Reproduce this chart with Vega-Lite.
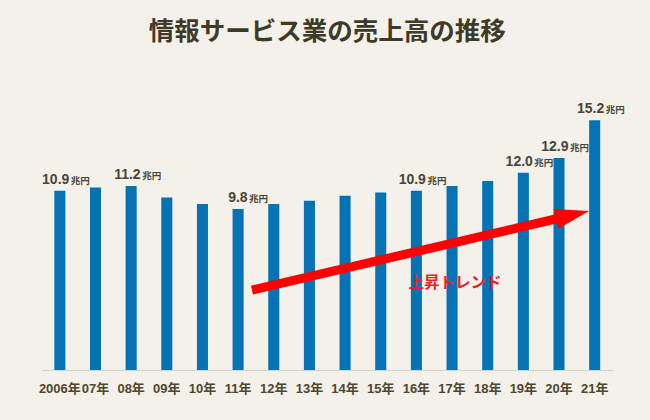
{
  "$schema": "https://vega.github.io/schema/vega-lite/v6.json",
  "width": 570.5,
  "height": 263,
  "autosize": {"type": "none"},
  "padding": {"left": 42, "top": 107, "right": 37.5, "bottom": 50},
  "background": "#f4f1ea",
  "config": {"view": {"stroke": null}},
  "title": {
    "text": "情報サービス業の売上高の推移",
    "font": "Noto Sans CJK JP",
    "fontSize": 25.5,
    "fontWeight": "bold",
    "color": "#3e3a28",
    "anchor": "middle",
    "offset": 57
  },
  "datasets": {
    "sales": [
      {"year": "2006年", "value": 10.9, "lab": "10.9"},
      {"year": "07年", "value": 11.1, "lab": ""},
      {"year": "08年", "value": 11.2, "lab": "11.2"},
      {"year": "09年", "value": 10.5, "lab": ""},
      {"year": "10年", "value": 10.1, "lab": ""},
      {"year": "11年", "value": 9.8, "lab": "9.8"},
      {"year": "12年", "value": 10.1, "lab": ""},
      {"year": "13年", "value": 10.3, "lab": ""},
      {"year": "14年", "value": 10.6, "lab": ""},
      {"year": "15年", "value": 10.8, "lab": ""},
      {"year": "16年", "value": 10.9, "lab": "10.9"},
      {"year": "17年", "value": 11.2, "lab": ""},
      {"year": "18年", "value": 11.5, "lab": ""},
      {"year": "19年", "value": 12.0, "lab": "12.0"},
      {"year": "20年", "value": 12.9, "lab": "12.9"},
      {"year": "21年", "value": 15.2, "lab": "15.2"}
    ],
    "trend": [
      {"x_start": 2011.39, "y_start": 4.86, "x_end": 2020.38, "y_end": 9.43, "text": "上昇トレンド", "text_x": 2017.08, "text_y": 5.27}
    ]
  },
  "layer": [
    {
      "data": {"name": "sales"},
      "encoding": {
        "x": {
          "field": "year",
          "type": "ordinal",
          "sort": null,
          "scale": {"paddingInner": 0.69, "paddingOuter": 0.345},
          "axis": {
            "title": null,
            "labelAngle": 0,
            "ticks": false,
            "domainColor": "#d6d3cf",
            "domainWidth": 1,
            "labelFont": "Liberation Sans, Noto Sans CJK JP",
            "labelFontSize": 13,
            "labelFontWeight": "bold",
            "labelColor": "#4d4731",
            "labelPadding": 12
          }
        },
        "y": {
          "field": "value",
          "type": "quantitative",
          "scale": {"domain": [0, 16], "nice": false},
          "axis": null
        }
      },
      "layer": [
        {"mark": {"type": "bar", "color": "#0573b3"}},
        {
          "transform": [{"filter": "datum.lab != ''"}],
          "mark": {
            "type": "text",
            "align": "right",
            "baseline": "alphabetic",
            "dx": 9.5,
            "dy": -7,
            "font": "Liberation Sans",
            "fontSize": 14,
            "fontWeight": "bold",
            "color": "#4a4535"
          },
          "encoding": {"text": {"field": "lab"}}
        },
        {
          "transform": [{"filter": "datum.lab != ''"}],
          "mark": {
            "type": "text",
            "align": "left",
            "baseline": "alphabetic",
            "dx": 11,
            "dy": -7,
            "font": "Noto Sans CJK JP",
            "fontSize": 9.5,
            "fontWeight": "bold",
            "color": "#4a4535"
          },
          "encoding": {"text": {"value": "兆円"}}
        }
      ]
    },
    {
      "data": {"name": "trend"},
      "layer": [
        {
          "mark": {"type": "rule", "color": "#ff0000", "strokeWidth": 9, "strokeCap": "butt"},
          "encoding": {
            "x": {"field": "x_start", "type": "quantitative", "scale": {"domain": [2005.5, 2021.5], "nice": false, "zero": false}, "axis": null},
            "y": {"field": "y_start", "type": "quantitative"},
            "x2": {"field": "x_end"},
            "y2": {"field": "y_end"}
          }
        },
        {
          "mark": {"type": "point", "shape": "M1,0L-1,-0.6L-1,0.6Z", "size": 1156, "angle": 346.8, "filled": true, "color": "#ff0000", "opacity": 1, "strokeWidth": 0},
          "encoding": {
            "x": {"field": "x_end", "type": "quantitative", "scale": {"domain": [2005.5, 2021.5], "nice": false, "zero": false}, "axis": null},
            "y": {"field": "y_end", "type": "quantitative"}
          }
        },
        {
          "mark": {"type": "text", "align": "center", "baseline": "middle", "font": "Noto Sans CJK JP", "fontSize": 15.5, "fontWeight": "bold", "color": "#ee1c25"},
          "encoding": {
            "x": {"field": "text_x", "type": "quantitative", "scale": {"domain": [2005.5, 2021.5], "nice": false, "zero": false}, "axis": null},
            "y": {"field": "text_y", "type": "quantitative"},
            "text": {"field": "text"}
          }
        }
      ]
    }
  ],
  "resolve": {"scale": {"x": "independent"}}
}
